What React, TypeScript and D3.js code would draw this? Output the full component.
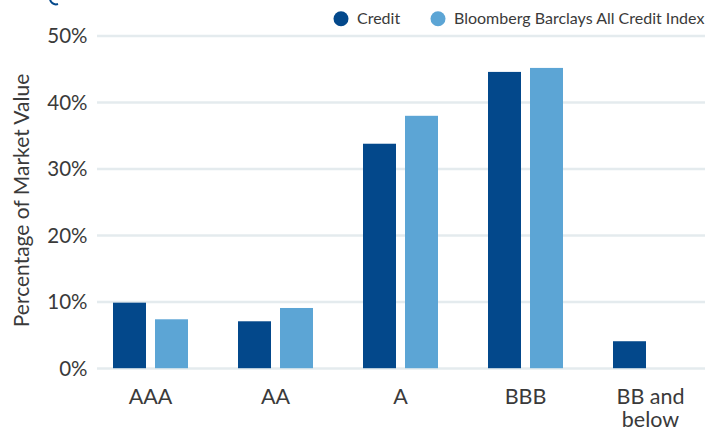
import * as d3 from "d3";

const categories = ["AAA", "AA", "A", "BBB", "BB and below"];
const series = ["Credit", "Bloomberg Barclays All Credit Index"];
const creditValues = [9.9, 7.1, 33.8, 44.6, 4.1];
const indexValues = [7.4, 9.1, 38.0, 45.2, 0];
const yTicks = [0, 10, 20, 30, 40, 50];
const colors = ["#03488b", "#5ca5d5"];

const W = 705;
const H = 429;
const font = "Lato, 'Open Sans', sans-serif";
const textColor = "#3a3a3a";

const App = () => {
    const x = d3.scaleBand().domain(categories).range([88, 713]).paddingInner(0.4).paddingOuter(0.2);
    // two bars of 33px with a 9px gap inside each 75px group
    const xInner = d3.scaleBand().domain(series).range([0, x.bandwidth()]).paddingInner(9 / 42);
    const y = d3.scaleLinear().domain([0, 50]).range([368.5, 36]);

    const data = categories.map((c, i) => ({
        cat: c,
        vals: [creditValues[i], indexValues[i]],
    }));

    return (
        <svg width={W} height={H} style={{ position: "absolute", left: 0, top: 0, background: "#fff" }}>
            {/* clipped title glyph at the top */}
            <path d="M50,-2 A6,6 0 0,0 58,4" fill="none" stroke="#03488b" strokeWidth={2} />
            {yTicks.map((t) => (
                <g key={`g-${t}`}>
                    <line x1={97} x2={W} y1={y(t)} y2={y(t)} stroke="#e4ebee" strokeWidth={2.5} />
                    <text
                        x={87.5}
                        y={y(t)}
                        dy="0.36em"
                        textAnchor="end"
                        fontFamily={font}
                        fontSize={20.5}
                        fill={textColor}
                    >
                        {t}%
                    </text>
                </g>
            ))}
            <text
                transform={`translate(29,200.5) rotate(-90)`}
                textAnchor="middle"
                fontFamily={font}
                fontSize={21}
                fill={textColor}
            >
                Percentage of Market Value
            </text>
            {data.map((d) => (
                <g key={d.cat} transform={`translate(${x(d.cat)},0)`}>
                    {d.vals.map((v, j) =>
                        v > 0 ? (
                            <rect
                                key={`b-${j}`}
                                x={xInner(series[j])}
                                y={y(v)}
                                width={xInner.bandwidth()}
                                height={y(0) - y(v)}
                                fill={colors[j]}
                            />
                        ) : null
                    )}
                </g>
            ))}
            <line x1={97} x2={W} y1={y(0)} y2={y(0)} stroke="#e4ebee" strokeWidth={1} opacity={0.6} />
            {data.map((d) => {
                const cx = x(d.cat) + x.bandwidth() / 2;
                const lines = d.cat === "BB and below" ? ["BB and", "below"] : [d.cat];
                return (
                    <text
                        key={`l-${d.cat}`}
                        x={cx}
                        y={404}
                        textAnchor="middle"
                        fontFamily={font}
                        fontSize={21.5}
                        fill={textColor}
                    >
                        {lines.map((l, k) => (
                            <tspan key={k} x={cx} dy={k === 0 ? 0 : 22.5}>
                                {l}
                            </tspan>
                        ))}
                    </text>
                );
            })}
            {/* legend */}
            <g fontFamily={font} fontSize={16} fill={textColor}>
                <circle cx={341} cy={18.7} r={7.5} fill={colors[0]} />
                <text x={357} y={18.7} dy="0.35em">
                    {series[0]}
                </text>
                <circle cx={438} cy={18.7} r={7.5} fill={colors[1]} />
                <text x={454} y={18.7} dy="0.35em">
                    {series[1]}
                </text>
            </g>
        </svg>
    );
};

export default App;
